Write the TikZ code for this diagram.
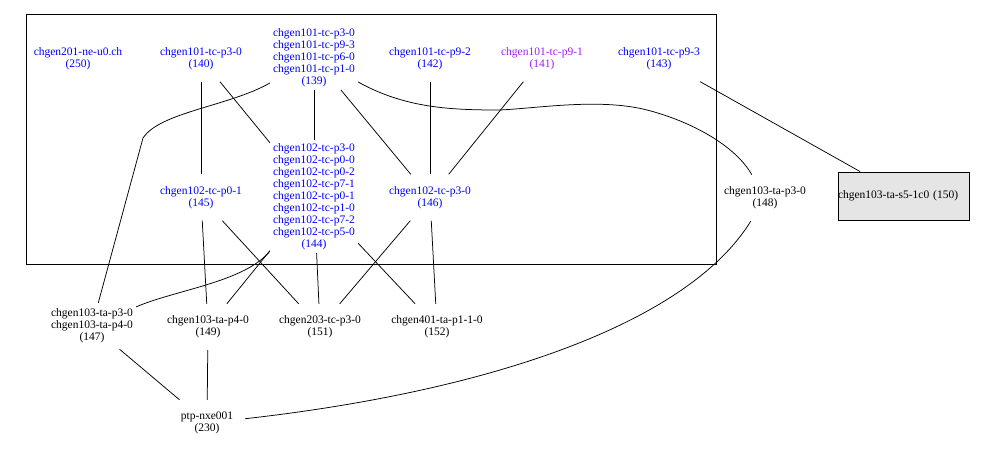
\documentclass[tikz,border=0pt]{standalone}
\usepackage{fontspec}
\newfontfamily\lbfont{Liberation Serif}
\definecolor{gvblue}{RGB}{0,0,255}
\definecolor{gvpurple}{RGB}{160,32,240}
\definecolor{boxgray}{RGB}{229,229,229}
\tikzset{
  lbl/.style={align=center, inner xsep=3pt, inner ysep=3pt, minimum height=46pt,
              font=\lbfont\fontsize{11.5}{12}\selectfont},
  bluelbl/.style={lbl, text=gvblue},
  purplelbl/.style={lbl, text=gvpurple},
  blacklbl/.style={lbl, text=black},
  grayboxnode/.style={draw=black, line width=0.9pt, fill=boxgray, inner xsep=0pt, inner ysep=0pt,
              minimum width=131pt, minimum height=48pt, text width=131pt, align=left,
              font=\lbfont\fontsize{11.5}{12}\selectfont},
  clusterbox/.style={draw=black, line width=0.9pt},
  edge/.style={draw=black, line width=0.75pt}
}
\begin{document}
\begin{tikzpicture}[x=1pt,y=-1pt]
\useasboundingbox[fill=white] (0,0) rectangle (982,459);
\draw[clusterbox] (26,14) rectangle (716,264);
% top row
\node[bluelbl] (n250) at (78,58.5) {chgen201-ne-u0.ch\\(250)};
\node[bluelbl] (n140) at (201,58.5) {chgen101-tc-p3-0\\(140)};
\node[bluelbl] (n139) at (314,57.5) {chgen101-tc-p3-0\\chgen101-tc-p9-3\\chgen101-tc-p6-0\\chgen101-tc-p1-0\\(139)};
\node[bluelbl] (n142) at (430,58.5) {chgen101-tc-p9-2\\(142)};
\node[purplelbl] (n141) at (542,58.5) {chgen101-tc-p9-1\\(141)};
\node[bluelbl] (n143) at (659,58.5) {chgen101-tc-p9-3\\(143)};
% middle row
\node[bluelbl] (n145) at (201,197.5) {chgen102-tc-p0-1\\(145)};
\node[bluelbl] (n144) at (314,196.5) {chgen102-tc-p3-0\\chgen102-tc-p0-0\\chgen102-tc-p0-2\\chgen102-tc-p7-1\\chgen102-tc-p0-1\\chgen102-tc-p1-0\\chgen102-tc-p7-2\\chgen102-tc-p5-0\\(144)};
\node[bluelbl] (n146) at (430,197.5) {chgen102-tc-p3-0\\(146)};
\node[blacklbl] (n148) at (765,198) {chgen103-ta-p3-0\\(148)};
\node[grayboxnode] (n150) at (903.5,196) {chgen103-ta-s5-1c0 (150)};
% lower rows
\node[blacklbl] (n147) at (92,326) {chgen103-ta-p3-0\\chgen103-ta-p4-0\\(147)};
\node[blacklbl] (n149) at (208,327) {chgen103-ta-p4-0\\(149)};
\node[blacklbl] (n151) at (320,327) {chgen203-tc-p3-0\\(151)};
\node[blacklbl] (n152) at (437,327) {chgen401-ta-p1-1-0\\(152)};
\node[blacklbl, minimum width=76pt] (n230) at (207,423) {ptp-nxe001\\(230)};
% helper coordinates
\coordinate (k1) at (143,138);
\coordinate (k2) at (500,110);
\coordinate (k3) at (647,110);
% edges
\draw[edge] (n140) -- (n145);
\draw[edge] (n140) -- (n144);
\draw[edge] (n139) .. controls (230,106) and (160,112) .. (k1) -- (n147);
\draw[edge] (n139) -- (n144);
\draw[edge] (n139) -- (n146);
\draw[edge] (n139) .. controls (405,108) and (450,110) .. (k2)
            .. controls (540,108) and (600,98) .. (k3)
            .. controls (690,121) and (735,145) .. (n148);
\draw[edge] (n142) -- (n146);
\draw[edge] (n141) -- (n146);
\draw[edge] (n143) -- (n150);
\draw[edge] (n145) -- (n149);
\draw[edge] (n145) -- (n151);
\draw[edge] (n144) .. controls (245,282) and (175,290) .. (n147);
\draw[edge] (n144) -- (n149);
\draw[edge] (n144) -- (n151);
\draw[edge] (n144) -- (n152);
\draw[edge] (n146) -- (n151);
\draw[edge] (n146) -- (n152);
\draw[edge] (n148) .. controls (690,320) and (500,390) .. (n230);
\draw[edge] (n147) -- (n230);
\draw[edge] (n149) -- (n230);
\end{tikzpicture}
\end{document}
